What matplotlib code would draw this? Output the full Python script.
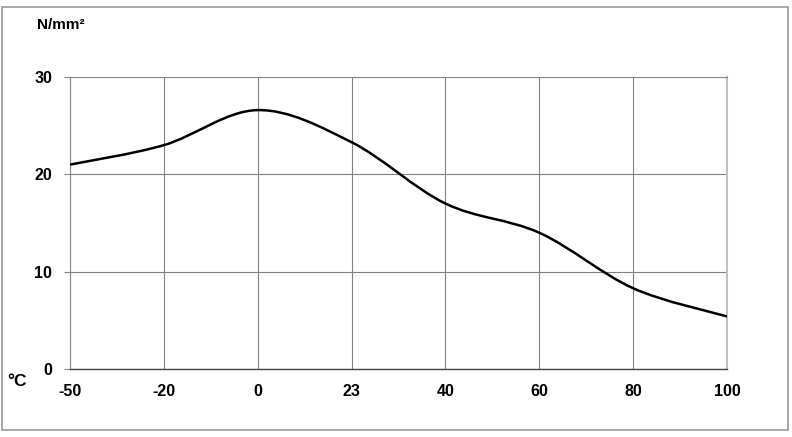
import numpy as np
import matplotlib.pyplot as plt
from matplotlib.path import Path
from matplotlib.patches import PathPatch, Rectangle

plt.rcParams['font.family'] = ['Liberation Sans', 'DejaVu Sans']

# temperature categories (°C) and strength values (N/mm²)
temps = ['-50', '-20', '0', '23', '40', '60', '80', '100']
strength = [21.0, 23.0, 26.6, 23.3, 17.0, 14.0, 8.3, 5.4]

fig = plt.figure(figsize=(7.92, 4.37), dpi=100)
ax = fig.add_axes([0.0884, 0.1556, 0.8295, 0.6682])

x = np.arange(len(temps))
y = np.array(strength)

# smoothed line through the points (cubic bezier, catmull-rom tangents)
verts = [(x[0], y[0])]
codes = [Path.MOVETO]
n = len(x)
for i in range(n - 1):
    p0 = np.array([x[max(i - 1, 0)], y[max(i - 1, 0)]])
    p1 = np.array([x[i], y[i]])
    p2 = np.array([x[i + 1], y[i + 1]])
    p3 = np.array([x[min(i + 2, n - 1)], y[min(i + 2, n - 1)]])
    c1 = p1 + (p2 - p0) / 6
    c2 = p2 - (p3 - p1) / 6
    verts += [tuple(c1), tuple(c2), tuple(p2)]
    codes += [Path.CURVE4] * 3
ax.add_patch(PathPatch(Path(verts, codes), facecolor='none', edgecolor='black', lw=1.8, zorder=3))

ax.set_xlim(0, n - 1)
ax.set_ylim(0, 30)
ax.set_xticks(x)
ax.set_xticklabels(temps, fontsize=11.5, fontweight='bold')
ax.set_yticks([0, 10, 20, 30])
ax.set_yticklabels(['0', '10', '20', '30'], fontsize=11.5, fontweight='bold')
ax.tick_params(axis='x', length=0, pad=11)
ax.tick_params(axis='y', length=4, color='#888888', pad=9)

ax.grid(True, color='#808080', lw=0.8)
ax.set_axisbelow(True)
ax.spines['left'].set_color('#888888')
ax.spines['top'].set_color('#888888')
ax.spines['right'].set_color('#c0c0c0')
ax.spines['right'].set_linewidth(1.5)
ax.spines['bottom'].set_color('#444444')
ax.spines['bottom'].set_linewidth(1.0)

fig.text(37 / 792, 1 - 25 / 437, 'N/mm²', fontsize=11, fontweight='bold', va='center', ha='left')
fig.text(7 / 792, 1 - 381 / 437, '°C', fontsize=12.5, fontweight='bold', va='center', ha='left')

# outer frame
fig.add_artist(Rectangle((2 / 792, 1 - 430 / 437), 786 / 792, 423 / 437,
                         transform=fig.transFigure, fill=False, edgecolor='#999999', lw=1.2))

plt.savefig('out.png', dpi=100)
